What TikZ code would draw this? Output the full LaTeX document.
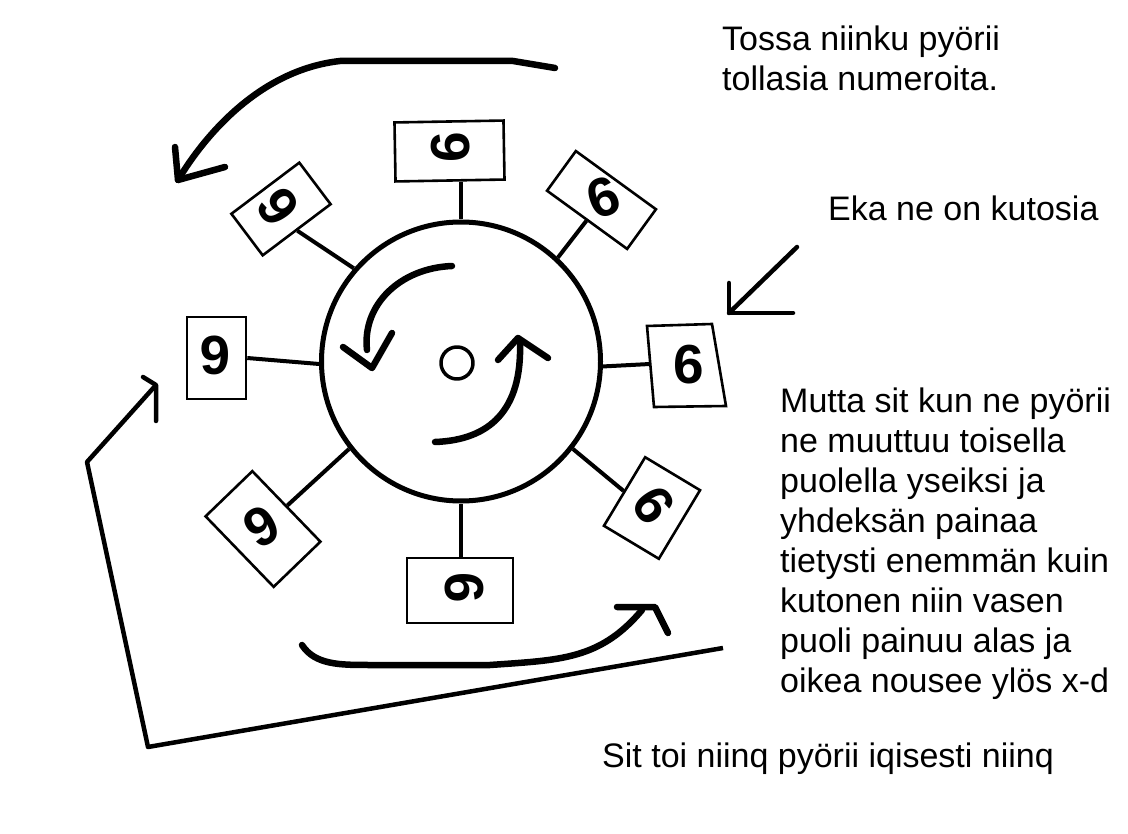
\documentclass[tikz,border=0pt]{standalone}
\usepackage{fontspec}
\setmainfont{Liberation Sans}
\newfontfamily\digitfont{Liberation Sans}
\begin{document}
\begin{tikzpicture}[x=1pt,y=-1pt,
  line cap=round, line join=round,
  txt/.style={anchor=base west, inner sep=0pt, align=left, font=\fontsize{34}{40}\selectfont},
  numbox/.style={draw, line width=2.6pt, rectangle, inner sep=0pt, line join=miter},
  digit/.style={inner sep=0pt, font=\digitfont\bfseries\fontsize{55}{55}\selectfont},
  spoke/.style={line width=4pt, line cap=butt},
  stroke/.style={line width=6.5pt},
  thinarrow/.style={line width=4.5pt}]
\useasboundingbox (0,0) rectangle (1128,834);
\fill[white] (0,0) rectangle (1128,834);

% wheel
\node[draw, circle, line width=5pt, minimum size=279pt, inner sep=0pt] (wheel) at (461,361.5) {};
\node[draw, circle, line width=3.5pt, minimum size=32pt, inner sep=0pt] (hub) at (457,363) {};

% boxes
\node[numbox, minimum width=109pt, minimum height=59pt, rotate=1]   (b1) at (449.5,151) {};
\node[numbox, minimum width=99pt,  minimum height=49pt, rotate=-36] (b2) at (601.5,200) {};
\node[numbox, minimum width=85pt,  minimum height=52pt, rotate=37]  (b3) at (281,209) {};
\node[numbox, minimum width=59pt,  minimum height=82pt]             (b4) at (216.5,358) {};
\node[numbox, minimum width=98pt,  minimum height=65pt, rotate=-46] (b5) at (263,529) {};
\node[numbox, minimum width=106pt, minimum height=65pt]             (b6) at (460,590.5) {};
\node[numbox, minimum width=64pt,  minimum height=80pt, rotate=-31] (b7) at (652,508) {};
\draw[line width=2.6pt, line join=miter] (647,326) -- (712,324) -- (726,406) -- (654,407) -- cycle;
\coordinate (b8w) at (650,364);

% digits
\node[digit, rotate=90]  (d1) at (451,147) {6};
\node[digit, rotate=20]  (d2) at (603,197) {6};
\node[digit, rotate=125] (d3) at (278,207) {6};
\node[digit, rotate=180] (d4) at (215,355) {6};
\node[digit, rotate=210] (d5) at (262,527) {6};
\node[digit, rotate=270] (d6) at (464,588) {6};
\node[digit, rotate=305] (d7) at (654,505) {6};
\node[digit]             (d8) at (689,365) {6};

% spokes
\draw[spoke] (wheel.90) -- (wheel.90 |- b1.south);
\draw[spoke] (wheel.47) -- (b2.south);
\draw[spoke] (wheel.139) -- (b3.south);
\draw[spoke] (wheel.181) -- (b4.east);
\draw[spoke] (wheel.218) -- (b5.north);
\draw[spoke] (wheel.270) -- (wheel.270 |- b6.north);
\draw[spoke] (wheel.322) -- (b7.west);
\draw[spoke] (wheel.358) -- (b8w);

% inner rotation arrows
\draw[stroke] (452,266) .. controls (400,268) and (362,305) .. (367,350);
\draw[stroke] (343,347) -- (372,368) -- (392,333);
\draw[stroke] (435,442) .. controls (490,440) and (522,410) .. (520,343);
\draw[stroke] (498,360) -- (518,338) -- (548,358);

% top-left big arrow
\draw[stroke] (555,68) -- (513,61) -- (340,61) .. controls (260,70) and (205,135) .. (178,180);
\draw[stroke] (175,147) -- (178,180) -- (225,167);

% bottom big arrow
\draw[stroke] (302,645) .. controls (315,665) and (340,665) .. (370,665) -- (490,665)
  .. controls (560,660) and (600,660) .. (642,610);
\draw[stroke] (617,607) -- (655,607) -- (668,633);

% thin long arrow
\draw[thinarrow, line cap=butt] (723,648) -- (148,747) -- (87,462) -- (156,385);
\draw[thinarrow] (143,377) -- (156,385) -- (156,421);

% pointer arrow to the 6
\draw[thinarrow] (797,247) -- (729,313);
\draw[thinarrow] (729,283) -- (729,313) -- (793,313);

% texts (base anchor of a multi-line node is its last line)
\node[txt] (t1) at (722,91) {Tossa niinku pyörii\\tollasia numeroita.};
\node[txt] (t2) at (828,221) {Eka ne on kutosia};
\node[txt] (t3) at (780,692) {Mutta sit kun ne pyörii\\ne muuttuu toisella\\puolella yseiksi ja\\yhdeksän painaa\\tietysti enemmän kuin\\kutonen niin vasen\\puoli painuu alas ja\\oikea nousee ylös x-d};
\node[txt] (t4) at (602,767) {Sit toi niinq pyörii iqisesti niinq};
\end{tikzpicture}
\end{document}
